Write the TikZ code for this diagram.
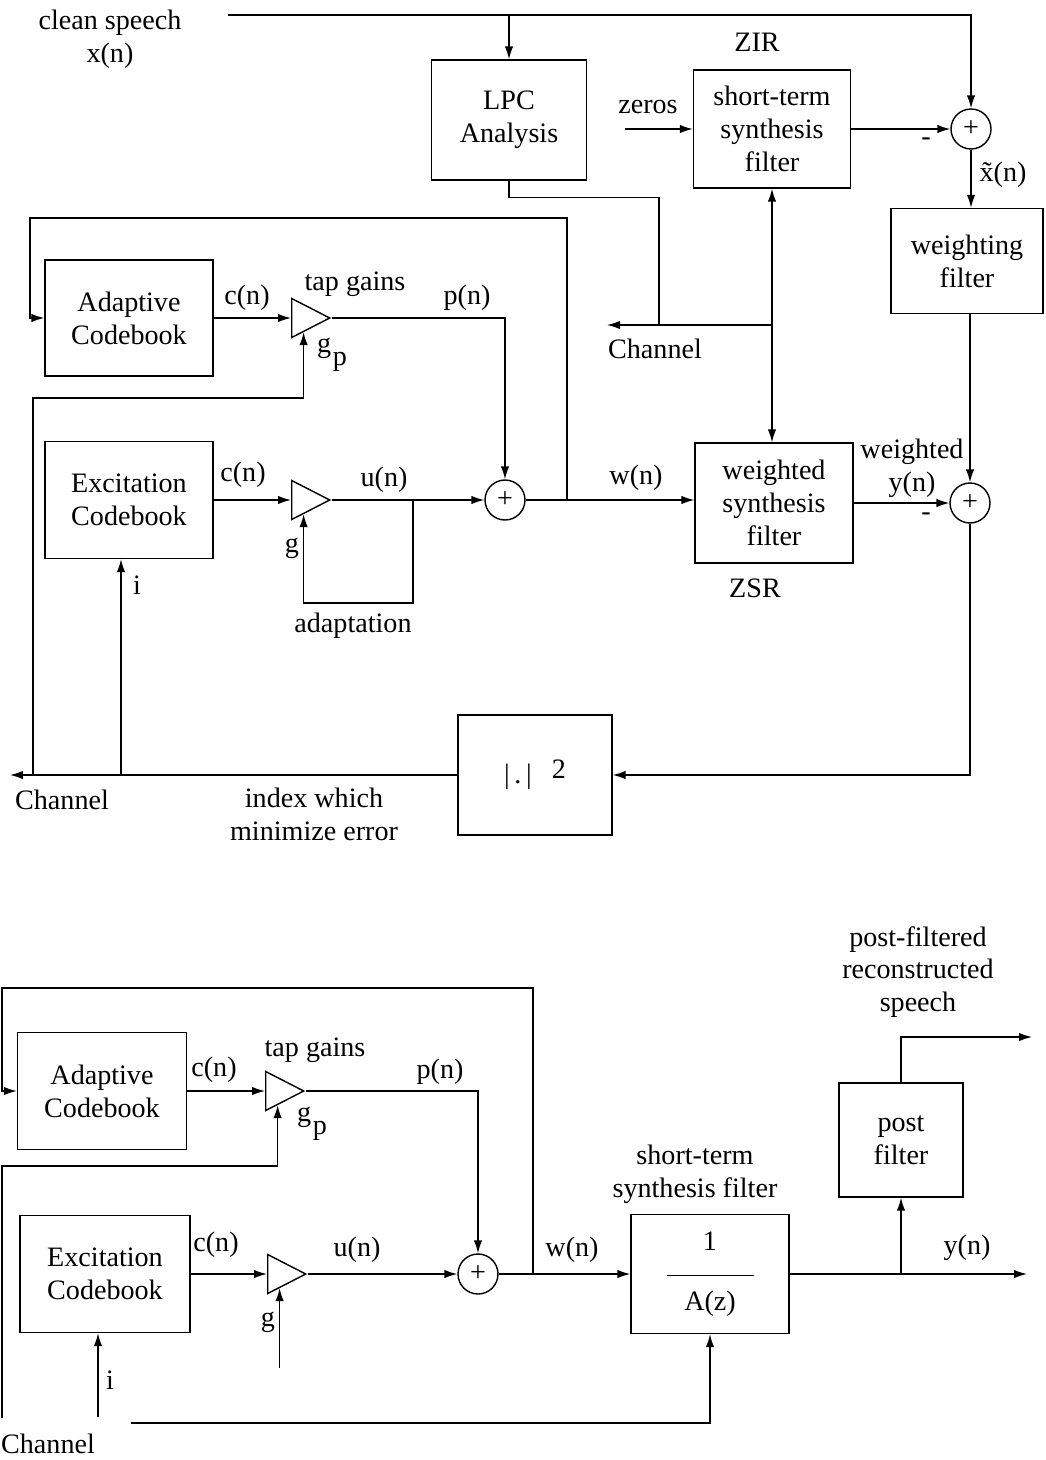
\documentclass[tikz,border=0pt]{standalone}
\usepackage{fontspec}
\setmainfont{Liberation Serif}
\usetikzlibrary{arrows.meta,shapes.geometric,calc}
\begin{document}
\begin{tikzpicture}[x=0.02cm, y=-0.02cm, line width=0.8pt, >={Latex[length=2.6mm,width=1.7mm]},
  every node/.style={font=\fontsize{16}{18.7}\selectfont},
  blk/.style={draw, align=center, inner sep=2pt},
  amp/.style={draw, isosceles triangle, isosceles triangle stretches, inner sep=0pt, minimum width=0.78cm, minimum height=0.76cm, anchor=lower side},
  sumc/.style={draw, circle, inner sep=0pt, minimum size=0.8cm}]
  \useasboundingbox (0,0) rectangle (1045,1460);
  \node[blk, minimum width=3.1cm, minimum height=2.4cm] (lpc) at (509,120) {LPC\\Analysis};
  \node[blk, minimum width=3.14cm, minimum height=2.36cm] (zir) at (772,129) {short-term\\synthesis\\filter};
  \node[blk, minimum width=3.04cm, minimum height=2.1cm] (wtf) at (967,261) {weighting\\filter};
  \node[blk, minimum width=3.16cm, minimum height=2.4cm] (wsf) at (774,503) {weighted\\synthesis\\filter};
  \node[blk, minimum width=3.08cm, minimum height=2.4cm] (sq) at (535,775) {|\,.\,|\hspace{0.4cm}\raisebox{0.4ex}{2}};
  \node[blk, minimum width=3.36cm, minimum height=2.32cm] (acb) at (129,318) {Adaptive\\Codebook};
  \node[blk, minimum width=3.36cm, minimum height=2.34cm] (ecb) at (129,500) {Excitation\\Codebook};
  \node[amp] (ampa) at (291,318) {};
  \node[amp] (ampe) at (291,500) {};
  \node[sumc] (sx) at (971,129) {+};
  \node[sumc] (sy) at (970,503) {+};
  \node[sumc] (sw) at (505,500) {+};
  \coordinate (xin) at (228,15);
  \coordinate (zin) at (625,129);
  \coordinate (chA) at (659,325);
  \coordinate (chB) at (607,325);
  \coordinate (chC) at (10,775);
  \coordinate (idx) at (121,775);
  \coordinate (gpc) at (33,398);
  \coordinate (gpd) at (33,775);
  \coordinate (fbk) at (567,500);
  \coordinate (fbl) at (30,218);
  \coordinate (adp) at (413,500);
  \draw[->] (xin) -| (sx);
  \draw[->] (xin -| lpc.north) -- (lpc.north);
  \draw[->] (zin) -- (zir.west);
  \draw[->] (zir.east) -- (sx);
  \draw[->] (sx) -- (sx |- wtf.north);
  \draw[->] (sy |- wtf.south) -- (sy);
  \draw[->] (wsf.east) -- (sy);
  \draw[->] (sy) |- (sq.east);
  \draw[->] (sq.west) -- (chC);
  \draw[->] (idx) -- (idx |- ecb.south);
  \draw[->] (gpd) -- (gpc) -| (ampa.south);
  \draw[->] (acb.east) -- (ampa.lower side);
  \draw[->] (ampa.apex) -| (sw);
  \draw[->] (ecb.east) -- (ampe.lower side);
  \draw[->] (ampe.apex) -- (sw);
  \draw[->] (adp) -- ++(0,103) -| (ampe.south);
  \draw[->] (sw) -- (sw -| wsf.west);
  \draw[->] (fbk) |- (fbl) |- (acb.west);
  \draw (lpc.south) -- ++(0,17) -| (chA);
  \draw[->] (zir.south |- chA) -- (chB);
  \draw[<->] (zir.south) -- (zir.south |- wsf.north);
  \node[align=center] (tcs) at (110,39) {clean speech\\x(n)};
  \node (tzr) at (648,107) {zeros};
  \node (tzi) at (757,42) {ZIR};
  \node (tzs) at (755,588) {ZSR};
  \node (tm1) at (926,142) {-};
  \node (tm2) at (926,517) {-};
  \node (txt) at (1003,175) {\~{x}(n)};
  \node[align=center] (twy) at (912,468) {weighted\\y(n)};
  \node (tch) at (655,349) {Channel};
  \node (ttg) at (355,284) {tap gains};
  \node (tca) at (247,298) {c(n)};
  \node (tpn) at (467,298) {p(n)};
  \node (tgp) at (332,355) {g\kern1pt\raisebox{-0.45em}{p}};
  \node (tce) at (243,475) {c(n)};
  \node (tun) at (384,480) {u(n)};
  \node (twn) at (636,478) {w(n)};
  \node (tg) at (292,548) {g};
  \node (tad) at (353,626) {adaptation};
  \node (ti) at (137,585) {i};
  \node (tcl) at (62,800) {Channel};
  \node[align=center] (tix) at (314,814) {index which\\minimize error};
  \node[blk, minimum width=3.38cm, minimum height=2.34cm] (acb2) at (102,1091) {Adaptive\\Codebook};
  \node[blk, minimum width=3.4cm, minimum height=2.34cm] (ecb2) at (105,1274) {Excitation\\Codebook};
  \node[amp] (ampa2) at (265,1091) {};
  \node[amp] (ampe2) at (267,1274) {};
  \node[sumc] (sw2) at (478,1274) {+};
  \node[blk, minimum width=3.16cm, minimum height=2.38cm] (stf) at (710,1274) {1\\\rule[4pt]{1.74cm}{0.8pt}\\[-3pt]A(z)};
  \node[blk, minimum width=2.48cm, minimum height=2.28cm] (pf) at (901,1140) {post\\filter};
  \coordinate (fbk2) at (533,1274);
  \coordinate (fbl2) at (2,988);
  \coordinate (gpc2) at (2,1166);
  \coordinate (gpd2) at (2,1418);
  \coordinate (gin) at (287,1368);
  \coordinate (idx2) at (98,1417);
  \coordinate (lpc2) at (131,1423);
  \coordinate (yout) at (1027,1274);
  \coordinate (sout) at (1032,1037);
  \draw[->] (fbk2) |- (fbl2) |- (acb2.west);
  \draw[->] (acb2.east) -- (ampa2.lower side);
  \draw[->] (ampa2.apex) -| (sw2);
  \draw[->] (gpd2) -- (gpc2) -| (ampa2.south);
  \draw[->] (ecb2.east) -- (ampe2.lower side);
  \draw[->] (ampe2.apex) -- (sw2);
  \draw[->] (ampe2.south |- gin) -- (ampe2.south);
  \draw[->] (idx2) -- (idx2 |- ecb2.south);
  \draw[->] (lpc2) -| (stf.south);
  \draw[->] (sw2) -- (stf.west);
  \draw[->] (stf.east) -- (yout);
  \draw[->] (pf.south |- yout) -- (pf.south);
  \draw[->] (pf.north) |- (sout);
  \node (ttg2) at (315,1050) {tap gains};
  \node (tca2) at (214,1070) {c(n)};
  \node (tpn2) at (440,1072) {p(n)};
  \node (tgp2) at (312,1124) {g\kern1pt\raisebox{-0.45em}{p}};
  \node (tce2) at (216,1245) {c(n)};
  \node (tun2) at (357,1250) {u(n)};
  \node (tg2) at (268,1322) {g};
  \node (ti2) at (110,1380) {i};
  \node (tcl2) at (48,1444) {Channel};
  \node (twn2) at (572,1250) {w(n)};
  \node[align=center] (tst) at (695,1174) {short-term\\synthesis filter};
  \node (tyn) at (967,1248) {y(n)};
  \node[align=center] (tpf) at (918,972) {post-filtered\\reconstructed\\speech};
\end{tikzpicture}
\end{document}
